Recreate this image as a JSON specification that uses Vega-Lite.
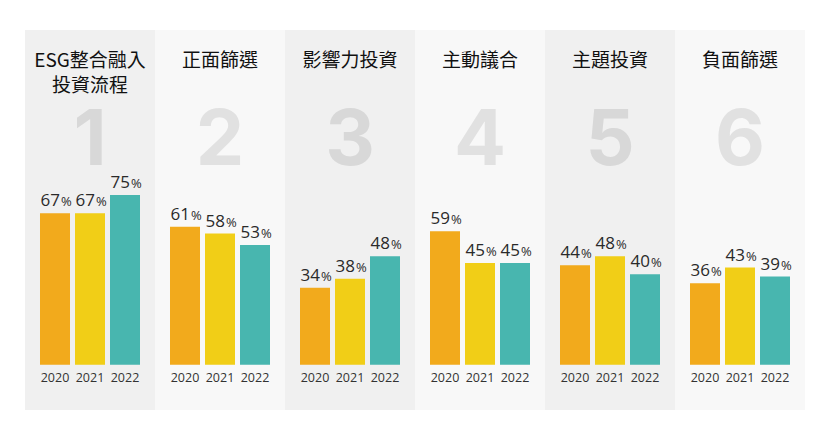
{
  "$schema": "https://vega.github.io/schema/vega-lite/v6.json",
  "width": 780,
  "height": 380,
  "autosize": {"type": "none"},
  "padding": {"left": 25, "top": 30, "right": 25, "bottom": 30},
  "background": "white",
  "config": {"view": {"stroke": null}, "font": "Open Sans"},
  "datasets": {
    "bars": [
      {"method": "ESG整合融入投資流程", "year": "2020", "value": 67},
      {"method": "ESG整合融入投資流程", "year": "2021", "value": 67},
      {"method": "ESG整合融入投資流程", "year": "2022", "value": 75},
      {"method": "正面篩選", "year": "2020", "value": 61},
      {"method": "正面篩選", "year": "2021", "value": 58},
      {"method": "正面篩選", "year": "2022", "value": 53},
      {"method": "影響力投資", "year": "2020", "value": 34},
      {"method": "影響力投資", "year": "2021", "value": 38},
      {"method": "影響力投資", "year": "2022", "value": 48},
      {"method": "主動議合", "year": "2020", "value": 59},
      {"method": "主動議合", "year": "2021", "value": 45},
      {"method": "主動議合", "year": "2022", "value": 45},
      {"method": "主題投資", "year": "2020", "value": 44},
      {"method": "主題投資", "year": "2021", "value": 48},
      {"method": "主題投資", "year": "2022", "value": 40},
      {"method": "負面篩選", "year": "2020", "value": 36},
      {"method": "負面篩選", "year": "2021", "value": 43},
      {"method": "負面篩選", "year": "2022", "value": 39}
    ],
    "panels": [
      {"method": "ESG整合融入投資流程", "title": "ESG整合融入\n投資流程", "num": 1},
      {"method": "正面篩選", "title": "正面篩選", "num": 2},
      {"method": "影響力投資", "title": "影響力投資", "num": 3},
      {"method": "主動議合", "title": "主動議合", "num": 4},
      {"method": "主題投資", "title": "主題投資", "num": 5},
      {"method": "負面篩選", "title": "負面篩選", "num": 6}
    ]
  },
  "encoding": {
    "x": {
      "field": "method",
      "type": "nominal",
      "scale": {
        "domain": ["ESG整合融入投資流程", "正面篩選", "影響力投資", "主動議合", "主題投資", "負面篩選"],
        "paddingInner": 0,
        "paddingOuter": 0
      },
      "axis": null
    }
  },
  "layer": [
    {
      "data": {"name": "panels"},
      "mark": {"type": "rect"},
      "encoding": {
        "y": {"datum": -20, "type": "quantitative", "scale": {"domain": [-20, 148], "nice": false, "zero": false}, "axis": null},
        "y2": {"datum": 148},
        "fill": {
          "field": "num",
          "type": "ordinal",
          "scale": {"domain": [1, 2, 3, 4, 5, 6], "range": ["#f0f0f0", "#f8f8f8", "#f0f0f0", "#f8f8f8", "#f0f0f0", "#f8f8f8"]},
          "legend": null
        }
      }
    },
    {
      "data": {"name": "panels"},
      "mark": {"type": "text", "font": "Inter", "fontWeight": 700, "fontSize": 77, "baseline": "alphabetic", "align": "center"},
      "encoding": {
        "y": {"datum": 88.3, "type": "quantitative", "scale": {"domain": [-20, 148], "nice": false, "zero": false}, "axis": null},
        "text": {"field": "num", "type": "nominal"},
        "color": {
          "field": "num",
          "type": "ordinal",
          "scale": {"domain": [1, 2, 3, 4, 5, 6], "range": ["#d8d8d8", "#e1e1e1", "#d8d8d8", "#e1e1e1", "#d8d8d8", "#e1e1e1"]},
          "legend": null
        }
      }
    },
    {
      "data": {"name": "panels"},
      "mark": {"type": "text", "font": "Noto Sans CJK TC", "fontWeight": 400, "fontSize": 19, "color": "#111111", "baseline": "alphabetic", "align": "center", "lineBreak": "\n", "lineHeight": 24.5},
      "encoding": {
        "y": {"datum": 131.6, "type": "quantitative", "scale": {"domain": [-20, 148], "nice": false, "zero": false}, "axis": null},
        "text": {"field": "title", "type": "nominal"}
      }
    },
    {
      "data": {"name": "bars"},
      "mark": {"type": "bar"},
      "encoding": {
        "xOffset": {"field": "year", "type": "nominal", "scale": {"paddingInner": 0.142857, "paddingOuter": 0.428571}},
        "y": {"field": "value", "type": "quantitative", "scale": {"domain": [-20, 148], "nice": false, "zero": false}, "axis": null},
        "y2": {"datum": 0},
        "fill": {
          "field": "year",
          "type": "nominal",
          "scale": {"domain": ["2020", "2021", "2022"], "range": ["#F2AA1C", "#F1CE17", "#48B6AF"]},
          "legend": null
        }
      },
      "resolve": {}
    },
    {
      "data": {"name": "bars"},
      "mark": {"type": "text", "fontSize": 17, "color": "#2a2a2a", "baseline": "alphabetic", "align": "right", "dx": 5, "dy": -7},
      "encoding": {
        "xOffset": {"field": "year", "type": "nominal"},
        "y": {"field": "value", "type": "quantitative", "scale": {"domain": [-20, 148], "nice": false, "zero": false}, "axis": null},
        "text": {"field": "value", "type": "quantitative"}
      }
    },
    {
      "data": {"name": "bars"},
      "mark": {"type": "text", "fontSize": 13, "color": "#2a2a2a", "baseline": "alphabetic", "align": "left", "dx": 6, "dy": -7},
      "encoding": {
        "xOffset": {"field": "year", "type": "nominal"},
        "y": {"field": "value", "type": "quantitative", "scale": {"domain": [-20, 148], "nice": false, "zero": false}, "axis": null},
        "text": {"value": "%"}
      }
    },
    {
      "data": {"name": "bars"},
      "mark": {"type": "text", "fontSize": 12.5, "color": "#333333", "baseline": "alphabetic", "align": "center", "dy": 17},
      "encoding": {
        "xOffset": {"field": "year", "type": "nominal"},
        "y": {"datum": 0, "type": "quantitative", "scale": {"domain": [-20, 148], "nice": false, "zero": false}, "axis": null},
        "text": {"field": "year", "type": "nominal"}
      }
    }
  ],
  "resolve": {"scale": {"fill": "independent", "color": "independent"}}
}
